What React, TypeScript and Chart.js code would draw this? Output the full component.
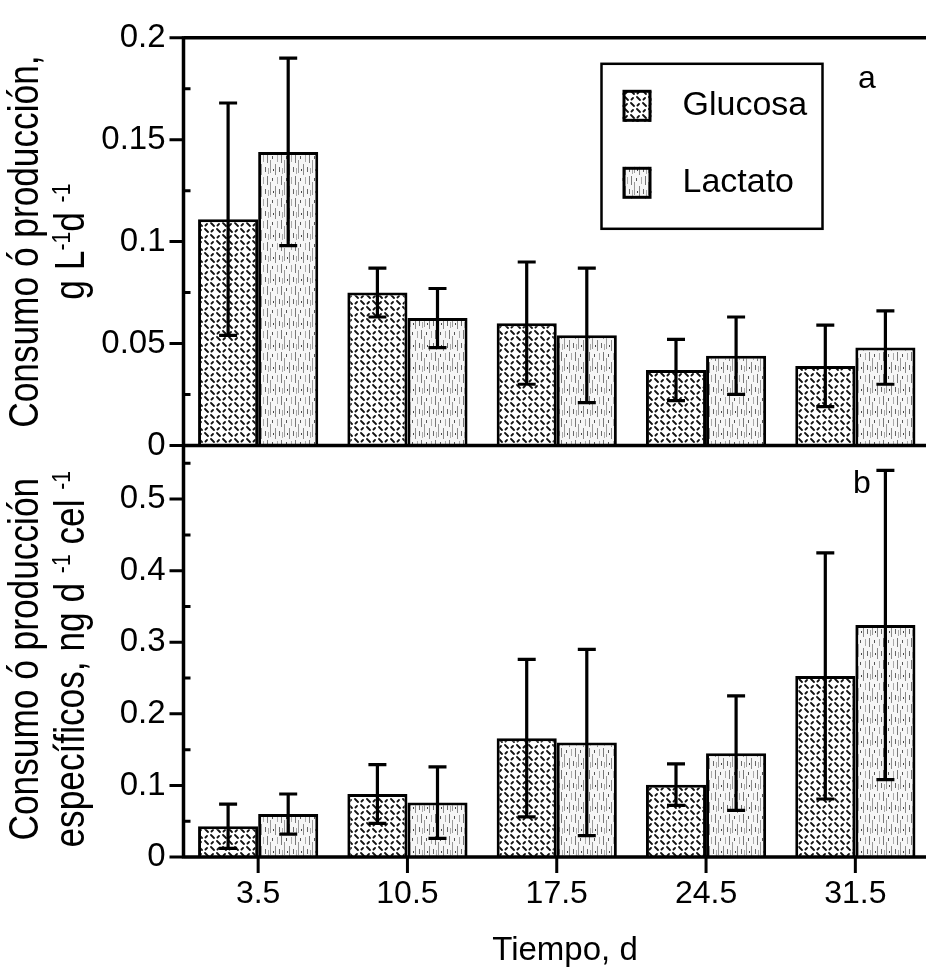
import React, { useEffect, useRef } from 'react';
import { Chart, registerables } from 'chart.js';

Chart.register(...registerables);

// ---------- data ----------
const days = ['3.5', '10.5', '17.5', '24.5', '31.5'];
const seriesNames = ['Glucosa', 'Lactato'];

// panel a: consumo / producción, g L-1 d-1
const glucosaRate = [0.111, 0.075, 0.06, 0.037, 0.039];
const glucosaRateErr = [0.057, 0.012, 0.03, 0.015, 0.02];
const lactatoRate = [0.144, 0.0625, 0.054, 0.044, 0.048];
const lactatoRateErr = [0.046, 0.0145, 0.033, 0.019, 0.018];

// panel b: consumo / producción específicos, ng d-1 cel-1
const glucosaSpec = [0.043, 0.088, 0.166, 0.101, 0.253];
const glucosaSpecErr = [0.031, 0.041, 0.11, 0.029, 0.172];
const lactatoSpec = [0.06, 0.076, 0.16, 0.145, 0.324];
const lactatoSpecErr = [0.028, 0.05, 0.13, 0.08, 0.216];

const rateTicks = [0, 0.05, 0.1, 0.15, 0.2];
const rateMinorTicks = [0.025, 0.075, 0.125, 0.175];
const specTicks = [0, 0.1, 0.2, 0.3, 0.4, 0.5];
const specMinorTicks = [0.05, 0.15, 0.25, 0.35, 0.45, 0.55];
const rateMax = 0.2;
const specMax = 0.575;

const panelLabels = ['a', 'b'];
const xTitle = 'Tiempo, d';
type Seg = { t: string; sup?: boolean };
const rateTitle: Seg[][] = [
  [{ t: 'Consumo ó producción,' }],
  [{ t: 'g L' }, { t: '-1', sup: true }, { t: 'd ' }, { t: '-1', sup: true }],
];
const specTitle: Seg[][] = [
  [{ t: 'Consumo ó producción' }],
  [{ t: 'específicos, ng d ' }, { t: '-1', sup: true }, { t: ' cel ' }, { t: '-1', sup: true }],
];

const FONT = "'Liberation Sans', Arial, Helvetica, sans-serif";

function makeGlucosaPattern(): CanvasPattern | string {
  const c = document.createElement('canvas');
  c.width = 12;
  c.height = 12;
  const g = c.getContext('2d');
  if (!g) return '#ccc';
  g.fillStyle = '#fff';
  g.fillRect(0, 0, 12, 12);
  g.strokeStyle = '#111';
  g.lineWidth = 1.8;
  g.lineCap = 'round';
  g.beginPath();
  g.moveTo(1, 1);
  g.lineTo(4, 4);
  g.moveTo(7, 7);
  g.lineTo(10, 10);
  g.moveTo(7.5, 3.5);
  g.lineTo(9, 2);
  g.moveTo(1.5, 9.5);
  g.lineTo(3, 8);
  g.stroke();
  return g.createPattern(c, 'repeat') || '#ccc';
}

function makeLactatoPattern(): CanvasPattern | string {
  const c = document.createElement('canvas');
  c.width = 14;
  c.height = 22;
  const g = c.getContext('2d');
  if (!g) return '#ddd';
  g.fillStyle = '#f6f6f6';
  g.fillRect(0, 0, 14, 22);
  const strokes: [number, number, number, string][] = [
    [1, 0, 9, '#777'],
    [4, 6, 19, '#999'],
    [6, 2, 5, '#555'],
    [9, 10, 21, '#888'],
    [11, 1, 8, '#aaa'],
    [13, 13, 18, '#666'],
    [2, 14, 20, '#aaa'],
    [7, 15, 17, '#444'],
  ];
  strokes.forEach(([x, y0, y1, col]) => {
    g.fillStyle = col;
    g.fillRect(x, y0, 1, y1 - y0);
  });
  return g.createPattern(c, 'repeat') || '#ddd';
}

function drawRotatedTitle(ctx: CanvasRenderingContext2D, lines: Seg[][], cy: number, baselines: number[], size: number) {
  lines.forEach((segs, li) => {
    ctx.save();
    ctx.translate(baselines[li], cy);
    ctx.rotate(-Math.PI / 2);
    ctx.scale(0.82, 1);
    ctx.textAlign = 'left';
    ctx.textBaseline = 'alphabetic';
    ctx.fillStyle = '#000';
    const widths = segs.map((s) => {
      ctx.font = `${s.sup ? size * 0.6 : size}px ${FONT}`;
      return ctx.measureText(s.t).width;
    });
    const total = widths.reduce((a, b) => a + b, 0);
    let u = -total / 2;
    segs.forEach((s, k) => {
      ctx.font = `${s.sup ? size * 0.6 : size}px ${FONT}`;
      ctx.fillText(s.t, u, s.sup ? -size * 0.33 : 0);
      u += widths[k];
    });
    ctx.restore();
  });
}

const decorPlugin = {
  id: 'paperDecor',
  afterDatasetsDraw(chart: any) {
    const ctx: CanvasRenderingContext2D = chart.ctx;
    const { left, right } = chart.chartArea;
    const yA = chart.scales.yA;
    const yB = chart.scales.yB;
    const xs = chart.scales.x;
    const topY = yA.top;
    const midY = yA.bottom;
    const botY = yB.bottom;
    ctx.save();
    ctx.strokeStyle = '#000';
    ctx.fillStyle = '#000';

    // error bars
    chart.data.datasets.forEach((ds: any, i: number) => {
      const meta = chart.getDatasetMeta(i);
      const ys = chart.scales[meta.yAxisID];
      meta.data.forEach((bar: any, j: number) => {
        const v = ds.data[j];
        const e = ds.err[j];
        const yU = ys.getPixelForValue(v + e);
        const yL = ys.getPixelForValue(v - e);
        ctx.lineWidth = 3.2;
        ctx.lineCap = 'butt';
        ctx.beginPath();
        ctx.moveTo(bar.x, yU);
        ctx.lineTo(bar.x, yL);
        ctx.moveTo(bar.x - 9, yU);
        ctx.lineTo(bar.x + 9, yU);
        ctx.moveTo(bar.x - 9, yL);
        ctx.lineTo(bar.x + 9, yL);
        ctx.stroke();
      });
    });

    // frame
    ctx.lineWidth = 3.5;
    ctx.beginPath();
    ctx.moveTo(left, topY);
    ctx.lineTo(right, topY);
    ctx.moveTo(left, midY);
    ctx.lineTo(right, midY);
    ctx.moveTo(left, botY);
    ctx.lineTo(right, botY);
    ctx.moveTo(left, topY - 1.5);
    ctx.lineTo(left, botY + 1.5);
    ctx.stroke();

    // y ticks
    ctx.lineWidth = 3;
    ctx.beginPath();
    rateTicks.forEach((v) => {
      const y = yA.getPixelForValue(v);
      ctx.moveTo(left - 14, y);
      ctx.lineTo(left, y);
    });
    specTicks.forEach((v) => {
      const y = yB.getPixelForValue(v);
      ctx.moveTo(left - 14, y);
      ctx.lineTo(left, y);
    });
    rateMinorTicks.forEach((v) => {
      const y = yA.getPixelForValue(v);
      ctx.moveTo(left, y);
      ctx.lineTo(left + 7, y);
    });
    specMinorTicks.forEach((v) => {
      const y = yB.getPixelForValue(v);
      ctx.moveTo(left, y);
      ctx.lineTo(left + 7, y);
    });
    // x ticks
    days.forEach((_, i) => {
      const x = xs.getPixelForValue(i);
      ctx.moveTo(x, botY);
      ctx.lineTo(x, botY + 16);
    });
    ctx.stroke();

    // legend
    const lx = left + 418;
    const ly = topY + 26;
    ctx.lineWidth = 2.5;
    ctx.strokeRect(lx, ly, 221, 165);
    chart.data.datasets.slice(0, 2).forEach((ds: any, i: number) => {
      const sy = ly + 26 + i * 77;
      ctx.fillStyle = ds.backgroundColor;
      ctx.fillRect(lx + 21, sy, 29, 32);
      ctx.lineWidth = 3;
      ctx.strokeRect(lx + 22.5, sy + 1.5, 26, 29);
      ctx.fillStyle = '#000';
      ctx.font = `34px ${FONT}`;
      ctx.textAlign = 'left';
      ctx.textBaseline = 'middle';
      ctx.fillText(ds.label, lx + 81, sy + 16);
    });

    // panel labels
    ctx.font = `32px ${FONT}`;
    ctx.textAlign = 'center';
    ctx.textBaseline = 'alphabetic';
    ctx.fillText(panelLabels[0], 867, topY + 50);
    ctx.fillText(panelLabels[1], 862, midY + 48);

    // x title
    ctx.font = `33px ${FONT}`;
    ctx.fillText(xTitle, 565, 960);

    // y titles
    drawRotatedTitle(ctx, rateTitle, (topY + midY) / 2, [38, 84], 43);
    drawRotatedTitle(ctx, specTitle, (midY + botY) / 2 + 8, [38, 84], 43);

    ctx.restore();
  },
};

export default function App() {
  const ref = useRef<HTMLCanvasElement>(null);
  useEffect(() => {
    const canvas = ref.current;
    if (!canvas) return;
    const gPat = makeGlucosaPattern();
    const lPat = makeLactatoPattern();
    const barStyle = { borderColor: '#000', borderWidth: 3, categoryPercentage: 0.805, barPercentage: 1 };
    const tickFont = { family: FONT, size: 33 };
    const chart = new Chart(canvas, {
      type: 'bar',
      data: {
        labels: days,
        datasets: [
          { label: seriesNames[0], data: glucosaRate, err: glucosaRateErr, yAxisID: 'yA', stack: 'g', backgroundColor: gPat, ...barStyle } as any,
          { label: seriesNames[1], data: lactatoRate, err: lactatoRateErr, yAxisID: 'yA', stack: 'l', backgroundColor: lPat, ...barStyle } as any,
          { label: seriesNames[0], data: glucosaSpec, err: glucosaSpecErr, yAxisID: 'yB', stack: 'g', backgroundColor: gPat, ...barStyle } as any,
          { label: seriesNames[1], data: lactatoSpec, err: lactatoSpecErr, yAxisID: 'yB', stack: 'l', backgroundColor: lPat, ...barStyle } as any,
        ],
      },
      options: {
        responsive: false,
        animation: false,
        devicePixelRatio: 1,
        layout: { padding: { left: 0, right: 10, top: 33, bottom: 0 } },
        plugins: { legend: { display: false }, tooltip: { enabled: false }, title: { display: false } },
        scales: {
          x: {
            type: 'category',
            offset: true,
            grid: { display: false, drawTicks: false },
            border: { display: false },
            ticks: { color: '#000', font: { family: FONT, size: 32 }, padding: 18, maxRotation: 0 },
            afterFit: (s: any) => {
              s.height = 111;
            },
          },
          yB: {
            type: 'linear',
            position: 'left',
            stack: 'panels',
            stackWeight: 414,
            min: 0,
            max: specMax,
            grid: { display: false, drawTicks: false },
            border: { display: false },
            ticks: { color: '#000', font: tickFont, padding: 18, callback: (v: any) => String(v) },
            afterBuildTicks: (s: any) => {
              s.ticks = specTicks.map((value) => ({ value }));
            },
            afterFit: (s: any) => {
              s.width = 183.5;
            },
          },
          yA: {
            type: 'linear',
            position: 'left',
            stack: 'panels',
            stackWeight: 410,
            min: 0,
            max: rateMax,
            grid: { display: false, drawTicks: false },
            border: { display: false },
            ticks: { color: '#000', font: tickFont, padding: 18, callback: (v: any) => String(v) },
            afterBuildTicks: (s: any) => {
              s.ticks = rateTicks.map((value) => ({ value }));
            },
            afterFit: (s: any) => {
              s.width = 183.5;
            },
          },
        } as any,
      },
      plugins: [decorPlugin],
    });
    return () => chart.destroy();
  }, []);

  return (
    <div style={{ position: 'absolute', left: 0, top: 0, width: 926, height: 968, overflow: 'hidden', background: '#fff' }}>
      <canvas ref={ref} width={940} height={968} style={{ display: 'block' }} />
    </div>
  );
}
